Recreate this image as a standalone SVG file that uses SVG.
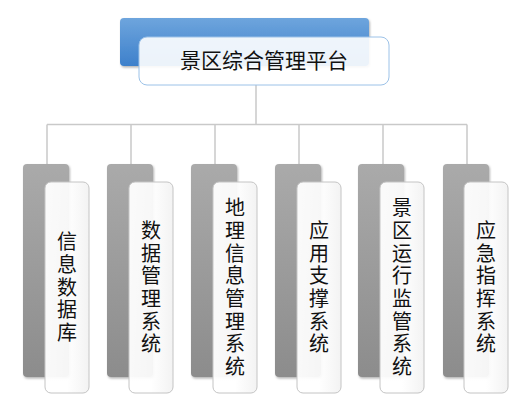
<svg xmlns="http://www.w3.org/2000/svg" width="524" height="400" viewBox="0 0 524 400">
<defs>
<linearGradient id="blue" x1="0" y1="0" x2="0" y2="1">
<stop offset="0" stop-color="#6ea5dd"/>
<stop offset="1" stop-color="#3d80cb"/>
</linearGradient>
<linearGradient id="gray" x1="0" y1="0" x2="0" y2="1">
<stop offset="0" stop-color="#aaaaaa"/>
<stop offset="1" stop-color="#8c8c8c"/>
</linearGradient>
<linearGradient id="white" x1="0" y1="0" x2="1" y2="0">
<stop offset="0" stop-color="#ffffff" stop-opacity="0.95"/>
<stop offset="0.5" stop-color="#ffffff" stop-opacity="0.92"/>
<stop offset="1" stop-color="#f2f2f2" stop-opacity="0.95"/>
</linearGradient>
<filter id="sh" x="-20%" y="-20%" width="140%" height="140%">
<feDropShadow dx="1" dy="1.5" stdDeviation="1.2" flood-color="#000" flood-opacity="0.3"/>
</filter>
</defs>
<style>
.ln{stroke:#c9c9c9;stroke-width:1.5;fill:none}
.back{fill:url(#gray);filter:url(#sh)}
.front{fill:url(#white);stroke:#c4c4c4;stroke-width:1}
.t{font-family:"Noto Sans CJK SC","Noto Sans",sans-serif;font-size:20px;fill:#111;text-anchor:middle}
.v{writing-mode:vertical-rl;letter-spacing:2.7px}
</style>
<rect width="524" height="400" fill="#ffffff"/>
<g id="connectors">
<path class="ln" d="M256 85V124.5M47 124.5H467M47 124.5V164M131 124.5V164M215 124.5V164M299 124.5V164M383 124.5V164M467 124.5V164"/>
</g>
<g id="root">
<rect x="120" y="18" width="249" height="48" rx="4" fill="url(#blue)" filter="url(#sh)"/>
<rect x="139" y="37" width="250" height="48" rx="8" fill="#ffffff" fill-opacity="0.9" stroke="#9cc2e8" stroke-width="1"/>
<text class="t" x="264" y="68" style="font-size:21px">景区综合管理平台</text>
</g>
<g id="n1">
<rect class="back" x="23" y="164" width="46" height="213" rx="4"/>
<rect class="front" x="45" y="182" width="44" height="211" rx="6"/>
<text class="t v" x="67" y="288.5">信息数据库</text>
</g>
<g id="n2">
<rect class="back" x="107" y="164" width="46" height="213" rx="4"/>
<rect class="front" x="129" y="182" width="44" height="211" rx="6"/>
<text class="t v" x="151" y="288.5">数据管理系统</text>
</g>
<g id="n3">
<rect class="back" x="191" y="164" width="46" height="213" rx="4"/>
<rect class="front" x="213" y="182" width="44" height="211" rx="6"/>
<text class="t v" x="235" y="288.5">地理信息管理系统</text>
</g>
<g id="n4">
<rect class="back" x="275" y="164" width="46" height="213" rx="4"/>
<rect class="front" x="297" y="182" width="44" height="211" rx="6"/>
<text class="t v" x="319" y="288.5">应用支撑系统</text>
</g>
<g id="n5">
<rect class="back" x="358" y="164" width="46" height="213" rx="4"/>
<rect class="front" x="380" y="182" width="44" height="211" rx="6"/>
<text class="t v" x="402" y="288.5">景区运行监管系统</text>
</g>
<g id="n6">
<rect class="back" x="443" y="164" width="46" height="213" rx="4"/>
<rect class="front" x="464" y="182" width="44" height="211" rx="6"/>
<text class="t v" x="486" y="288.5">应急指挥系统</text>
</g>
</svg>
